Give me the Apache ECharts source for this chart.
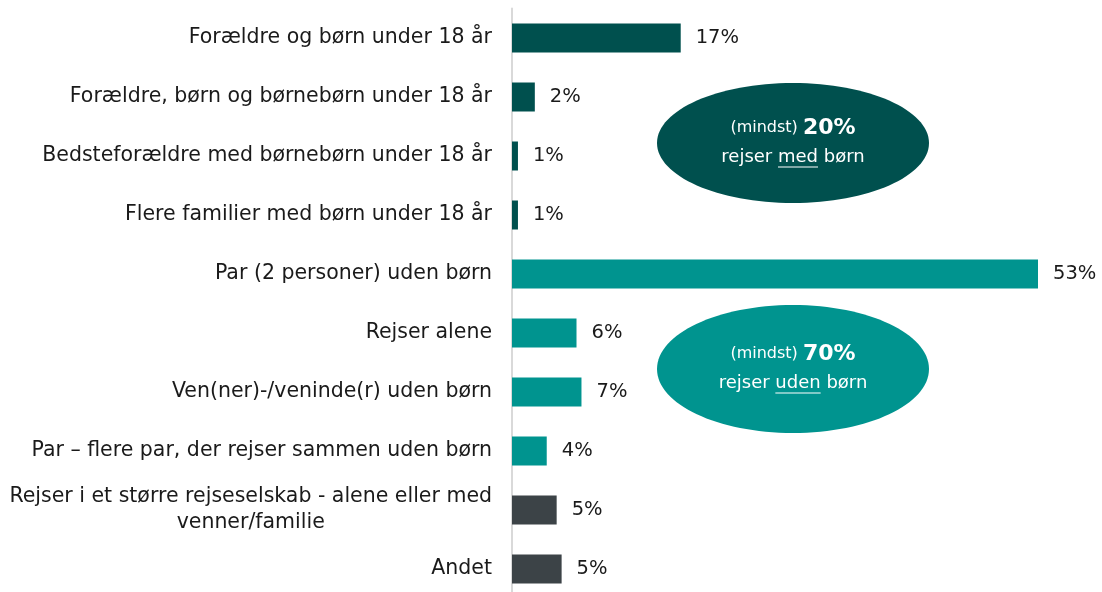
<!DOCTYPE html>
<html>
<head>
<meta charset="utf-8">
<script src="https://cdn.jsdelivr.net/npm/echarts@6/dist/echarts.min.js"></script>
<style>
  html, body { margin: 0; padding: 0; background: #fff; }
  #chart { width: 1102px; height: 592px; }
</style>
</head>
<body>
<div id="chart"></div>
<script>
// kategorier, top til bund
var categories = [
  'Forældre og børn under 18 år',
  'Forældre, børn og børnebørn under 18 år',
  'Bedsteforældre med børnebørn under 18 år',
  'Flere familier med børn under 18 år',
  'Par (2 personer) uden børn',
  'Rejser alene',
  'Ven(ner)-/veninde(r) uden børn',
  'Par – flere par, der rejser sammen uden børn',
  'Rejser i et større rejseselskab - alene eller med\nvenner/familie',
  'Andet'
];
// bar-længder (%)
var values = [17, 2.3, 0.6, 0.6, 53, 6.5, 7, 3.5, 4.5, 5];
// viste etiketter
var valueLabels = ['17%', '2%', '1%', '1%', '53%', '6%', '7%', '4%', '5%', '5%'];
// gruppe pr. kategori: 0 = med børn, 1 = uden børn, 2 = andet
var groups = [0, 0, 0, 0, 1, 1, 1, 1, 2, 2];
var groupColors = ['#00504e', '#00948f', '#3c4347'];

var font = 'DejaVu Sans';
var labelSize = 20.5;

// måler tekstbredde (understregning + centrering af 2. linje)
var ctx = document.createElement('canvas').getContext('2d');
function textWidth(str, size, weight) {
  ctx.font = (weight || 'normal') + ' ' + size + 'px "' + font + '"';
  return ctx.measureText(str).width;
}

function bubble(cx, cy, rx, ry, color, pct, word) {
  var size2 = 18;
  var pre = 'rejser ', post = ' børn';
  var total = textWidth(pre + word + post, size2);
  var x0 = cx - total / 2 + textWidth(pre, size2);
  var x1 = x0 + textWidth(word, size2);
  return [
    { type: 'ellipse', shape: { cx: cx, cy: cy, rx: rx, ry: ry }, style: { fill: color } },
    {
      type: 'text', x: cx, y: cy - 15,
      style: {
        text: '{s|(mindst) }{b|' + pct + '}', align: 'center', verticalAlign: 'middle',
        rich: {
          s: { fill: '#fff', fontSize: 16, fontFamily: font },
          b: { fill: '#fff', fontSize: 22, fontWeight: 'bold', fontFamily: font }
        }
      }
    },
    {
      type: 'text', x: cx, y: cy + 14,
      style: { text: pre + word + post, fill: '#fff', fontSize: size2, fontFamily: font, align: 'center', verticalAlign: 'middle' }
    },
    { type: 'line', shape: { x1: x0, y1: cy + 24, x2: x1, y2: cy + 24 }, style: { stroke: '#fff', lineWidth: 1.2 } }
  ];
}

var barData = values.map(function (v, i) {
  return { value: v, itemStyle: { color: groupColors[groups[i]] } };
});

var longLine = categories[8].split('\n')[0];
var longWidth = textWidth(longLine, labelSize);

var chart = echarts.init(document.getElementById('chart'));

var option = {
  animation: false,
  grid: { left: 512, right: 64, top: 8.5, height: 590, outerBoundsMode: 'none' },
  xAxis: {
    type: 'value',
    min: 0,
    max: 53,
    show: false
  },
  yAxis: {
    type: 'category',
    inverse: true,
    data: categories,
    axisLine: { show: true, lineStyle: { color: '#d9d9d9', width: 2 } },
    axisTick: { show: false },
    axisLabel: {
      margin: 20,
      color: '#1a1a1a',
      fontFamily: font,
      fontSize: labelSize,
      lineHeight: 26,
      formatter: function (val) {
        var parts = val.split('\n');
        if (parts.length > 1) {
          return parts[0] + '\n{v|' + parts[1] + '}';
        }
        return val;
      },
      rich: {
        v: { width: longWidth, align: 'center', fontFamily: font, fontSize: labelSize, color: '#1a1a1a', lineHeight: 26 }
      }
    }
  },
  series: [{
    type: 'bar',
    data: barData,
    barWidth: 29,
    label: {
      show: true,
      position: 'right',
      distance: 15,
      color: '#1a1a1a',
      fontFamily: font,
      fontSize: 19.5,
      formatter: function (p) { return valueLabels[p.dataIndex]; }
    }
  }],
  graphic: bubble(793, 143, 136, 60, '#00504e', '20%', 'med')
    .concat(bubble(793, 369, 136, 64, '#00948f', '70%', 'uden'))
};

chart.setOption(option);
</script>
</body>
</html>
